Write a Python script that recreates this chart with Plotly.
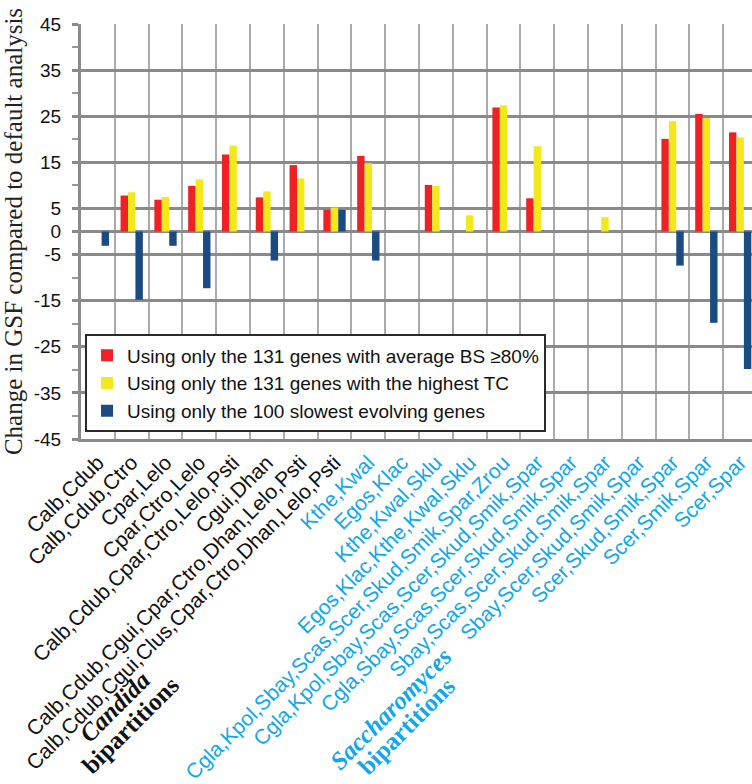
import plotly.graph_objects as go

# Bipartitions on the x axis (Candida clade first, then Saccharomyces clade)
categories = [
    "Calb,Cdub",
    "Calb,Cdub,Ctro",
    "Cpar,Lelo",
    "Cpar,Ctro,Lelo",
    "Calb,Cdub,Cpar,Ctro,Lelo,Psti",
    "Cgui,Dhan",
    "Calb,Cdub,Cgui,Cpar,Ctro,Dhan,Lelo,Psti",
    "Calb,Cdub,Cgui,Clus,Cpar,Ctro,Dhan,Lelo,Psti",
    "Kthe,Kwal",
    "Egos,Klac",
    "Kthe,Kwal,Sklu",
    "Egos,Klac,Kthe,Kwal,Sklu",
    "Cgla,Kpol,Sbay,Scas,Scer,Skud,Smik,Spar,Zrou",
    "Cgla,Kpol,Sbay,Scas,Scer,Skud,Smik,Spar",
    "Cgla,Sbay,Scas,Scer,Skud,Smik,Spar",
    "Sbay,Scas,Scer,Skud,Smik,Spar",
    "Sbay,Scer,Skud,Smik,Spar",
    "Scer,Skud,Smik,Spar",
    "Scer,Smik,Spar",
    "Scer,Spar",
]
clade = ["Candida"] * 8 + ["Saccharomyces"] * 12

# Change in GSF relative to the default analysis
bs80 = [None, 7.8, 6.9, 9.9, 16.7, 7.4, 14.4, 4.7, 16.4, None, 10.1, None,
        26.9, 7.2, None, None, None, 20.1, 25.5, 21.5]
high_tc = [None, 8.5, 7.5, 11.3, 18.6, 8.7, 11.5, 5.2, 14.8, None, 9.9, 3.5,
           27.4, 18.5, None, 3.1, None, 23.9, 24.6, 20.4]
slowest = [-3.1, -14.8, -3.1, -12.3, None, -6.3, None, 4.7, -6.3, None, None, None,
           None, None, None, None, None, -7.4, -19.8, -29.8]

series_names = [
    "Using only the 131 genes with average BS \u226580%",
    "Using only the 131 genes with the highest TC",
    "Using only the 100 slowest evolving genes",
]
series_colors = ["#ee2225", "#f2e81a", "#1b4b80"]

ytick_vals = [45, 35, 25, 15, 5, 0, -5, -15, -25, -35, -45]
ytick_minor = [40, 30, 20, 10, -10, -20, -30, -40]

clade_colors = {"Candida": "#111111", "Saccharomyces": "#10a8e6"}
tick_text = [
    f"<span style='color:{clade_colors[c]}'>{name}</span>"
    for name, c in zip(categories, clade)
]

fig = go.Figure()
for name, vals, col in zip(series_names, [bs80, high_tc, slowest], series_colors):
    fig.add_trace(go.Bar(
        x=categories, y=vals, name=name,
        marker=dict(color=col, line=dict(width=0)),
        legendgroup=name,
    ))

grid_gray = "#8a8a8a"
fig.update_layout(
    width=752, height=784,
    margin=dict(l=81, r=0, t=24, b=340, pad=0),
    paper_bgcolor="white", plot_bgcolor="white",
    barmode="group", bargap=0.34, bargroupgap=0,
    font=dict(family="Liberation Sans, Arial, sans-serif", color="#111111"),
    legend=dict(
        x=0.006, y=0.252, xanchor="left", yanchor="top",
        bgcolor="white", bordercolor="#2a2a2a", borderwidth=2,
        font=dict(size=19, color="#111111"),
        tracegroupgap=0, itemwidth=30,
    ),
    xaxis=dict(
        type="category",
        tickmode="array", tickvals=categories, ticktext=tick_text,
        tickangle=-45, tickfont=dict(size=21),
        tickson="boundaries", ticks="",
        showgrid=True, gridcolor="#ababab", gridwidth=2,
        range=[-0.5, 19.35],
        showline=True, linecolor=grid_gray, linewidth=3,
        zeroline=False,
    ),
    yaxis=dict(
        range=[-45, 45],
        tickmode="array", tickvals=ytick_vals,
        ticktext=[str(v) for v in ytick_vals],
        tickfont=dict(size=19, color="#111111"),
        ticks="outside", ticklen=6, tickwidth=3, tickcolor=grid_gray,
        ticklabelstandoff=7,
        showgrid=True, gridcolor=grid_gray, gridwidth=3,
        zeroline=True, zerolinecolor=grid_gray, zerolinewidth=3,
        showline=True, linecolor=grid_gray, linewidth=3,
        minor=dict(tickmode="array", tickvals=ytick_minor, ticks="outside",
                   ticklen=6, tickwidth=2, tickcolor="#9a9a9a", showgrid=False),
        title=dict(
            text="Change in GSF compared to default analysis",
            font=dict(family="Liberation Serif, Times New Roman, serif", size=25,
                      color="#222222"),
            standoff=12,
        ),
    ),
)

# Clade captions under the tick labels
caption_font = dict(family="Liberation Serif, Times New Roman, serif", size=25)
captions = [
    ("<b><i>Candida</i></b>", 115, 715, "#111111"),
    ("<b>bipartitions</b>", 130, 734, "#111111"),
    ("<b><i>Saccharomyces</i></b>", 391, 717, "#10a8e6"),
    ("<b>bipartitions</b>", 406, 735, "#10a8e6"),
]
for text, px, py, col in captions:
    fig.add_annotation(
        text=text, xref="paper", yref="paper",
        x=(px - 81) / 671, y=(444 - py) / 420,
        xanchor="center", yanchor="middle",
        textangle=-45, showarrow=False,
        font=dict(color=col, **caption_font),
    )

fig.write_html("out.html")
